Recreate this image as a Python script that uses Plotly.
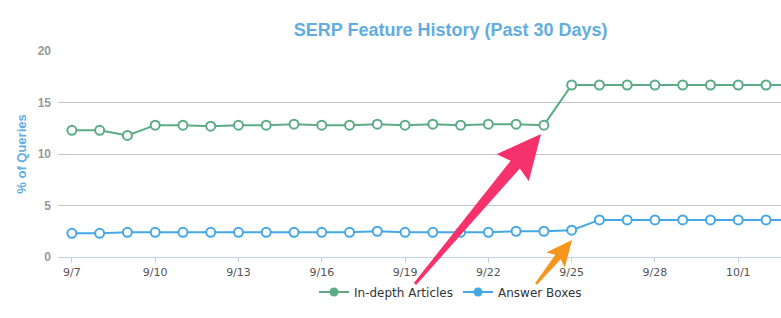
import plotly.graph_objects as go

dates = ["9/7", "9/8", "9/9", "9/10", "9/11", "9/12", "9/13", "9/14", "9/15",
         "9/16", "9/17", "9/18", "9/19", "9/20", "9/21", "9/22", "9/23", "9/24",
         "9/25", "9/26", "9/27", "9/28", "9/29", "9/30", "10/1", "10/2", "10/3"]
in_depth = [12.3, 12.3, 11.8, 12.8, 12.8, 12.7, 12.8, 12.8, 12.9, 12.8, 12.8, 12.9,
            12.8, 12.9, 12.8, 12.9, 12.9, 12.8,
            16.7, 16.7, 16.7, 16.7, 16.7, 16.7, 16.7, 16.7, 16.7]
answer_boxes = [2.3, 2.3, 2.4, 2.4, 2.4, 2.4, 2.4, 2.4, 2.4, 2.4, 2.4, 2.5,
                2.4, 2.4, 2.4, 2.4, 2.5, 2.5,
                2.6, 3.6, 3.6, 3.6, 3.6, 3.6, 3.6, 3.6, 3.6]
series_names = ["In-depth Articles", "Answer Boxes"]
x_ticks = dates[::3]
y_ticks = [0, 5, 10, 15, 20]

GREEN = "#5BAB86"
BLUE = "#45A8E4"
TITLE_BLUE = "#62ADE0"

W, H = 781, 318
ML, MR, MT, MB = 58, 0, 51, 61

fig = go.Figure()
for name, vals, col in [(series_names[0], in_depth, GREEN), (series_names[1], answer_boxes, BLUE)]:
    fig.add_trace(go.Scatter(
        x=dates, y=vals, mode="lines+markers", name=name, showlegend=False,
        line=dict(color=col, width=2),
        marker=dict(size=9, color="white", line=dict(color=col, width=2)),
    ))
# legend entries (filled markers like the original)
for name, col, lg in [(series_names[0], GREEN, "legend"), (series_names[1], BLUE, "legend2")]:
    fig.add_trace(go.Scatter(
        x=[None], y=[None], mode="lines+markers", name=name, legend=lg,
        line=dict(color=col, width=2),
        marker=dict(size=9, color=col),
    ))

# decorative arrows (pixel positions -> paper coords)
pw = W - ML - MR
ph = H - MT - MB


def P(px, py):
    return (px - ML) / pw, (H - MB - py) / ph


def arrow_path(tail, tip, head_len, head_hw, shaft_tip_hw, shaft_tail_hw):
    import math
    dx, dy = tip[0] - tail[0], tip[1] - tail[1]
    L = math.hypot(dx, dy)
    ux, uy = dx / L, dy / L
    nx, ny = -uy, ux
    bx, by = tip[0] - head_len * ux, tip[1] - head_len * uy
    pts = [
        (tail[0] + shaft_tail_hw * nx, tail[1] + shaft_tail_hw * ny),
        (bx + shaft_tip_hw * nx, by + shaft_tip_hw * ny),
        (bx + head_hw * nx - 4 * ux, by + head_hw * ny - 4 * uy),
        tip,
        (bx - head_hw * nx - 4 * ux, by - head_hw * ny - 4 * uy),
        (bx - shaft_tip_hw * nx, by - shaft_tip_hw * ny),
        (tail[0] - shaft_tail_hw * nx, tail[1] - shaft_tail_hw * ny),
    ]
    s = ""
    for i, (px, py) in enumerate(pts):
        x, y = P(px, py)
        s += ("M" if i == 0 else "L") + f"{x:.5f},{y:.5f} "
    return s + "Z"


fig.add_shape(type="path", xref="paper", yref="paper",
              path=arrow_path((415, 284), (541, 134), 40, 21, 6, 1.5),
              fillcolor="#F5326C", line=dict(width=0), layer="above")
fig.add_shape(type="path", xref="paper", yref="paper",
              path=arrow_path((536, 284), (572, 240), 22, 12, 3.5, 1.2),
              fillcolor="#F7961E", line=dict(width=0), layer="above")

legend_font = dict(family="DejaVu Sans", size=12, color="#333333")
fig.update_layout(
    width=W, height=H,
    margin=dict(l=ML, r=MR, t=MT, b=MB),
    paper_bgcolor="white", plot_bgcolor="white",
    title=dict(text="SERP Feature History (Past 30 Days)", x=0.577, xanchor="center",
               xref="container", y=1 - 30 / H, yanchor="middle", yref="container",
               font=dict(family="Liberation Sans, Arial", size=18, color=TITLE_BLUE, weight="bold")),
    xaxis=dict(type="category", categoryorder="array", categoryarray=dates,
               range=[-0.5, 25.54], tickmode="array", tickvals=x_ticks, ticktext=x_ticks,
               showgrid=False, showline=True, linecolor="#C0D0E0", linewidth=1,
               ticks="outside", ticklen=5, tickcolor="#C0D0E0",
               tickfont=dict(family="DejaVu Sans", size=11, color="#555555"), zeroline=False),
    yaxis=dict(range=[0, 20], tickvals=y_ticks, showgrid=True, gridcolor="#C6C6C6",
               zeroline=False, showline=False, ticks="", ticklabelstandoff=6,
               tickfont=dict(family="Liberation Sans, Arial", size=12, color="#999999", weight="bold"),
               title=dict(text="% of Queries", standoff=8,
                          font=dict(family="Liberation Sans, Arial", size=13, color=TITLE_BLUE, weight="bold"))),
    legend=dict(orientation="h", x=(356 - 42 - ML) / pw, xanchor="left", y=(H - MB - 292) / ph,
                yanchor="middle", font=legend_font, bgcolor="rgba(0,0,0,0)", itemwidth=30),
    legend2=dict(orientation="h", x=(500 - 42 - ML) / pw, xanchor="left", y=(H - MB - 292) / ph,
                 yanchor="middle", font=legend_font, bgcolor="rgba(0,0,0,0)", itemwidth=30),
    showlegend=True,
)

fig.write_html("out.html")
